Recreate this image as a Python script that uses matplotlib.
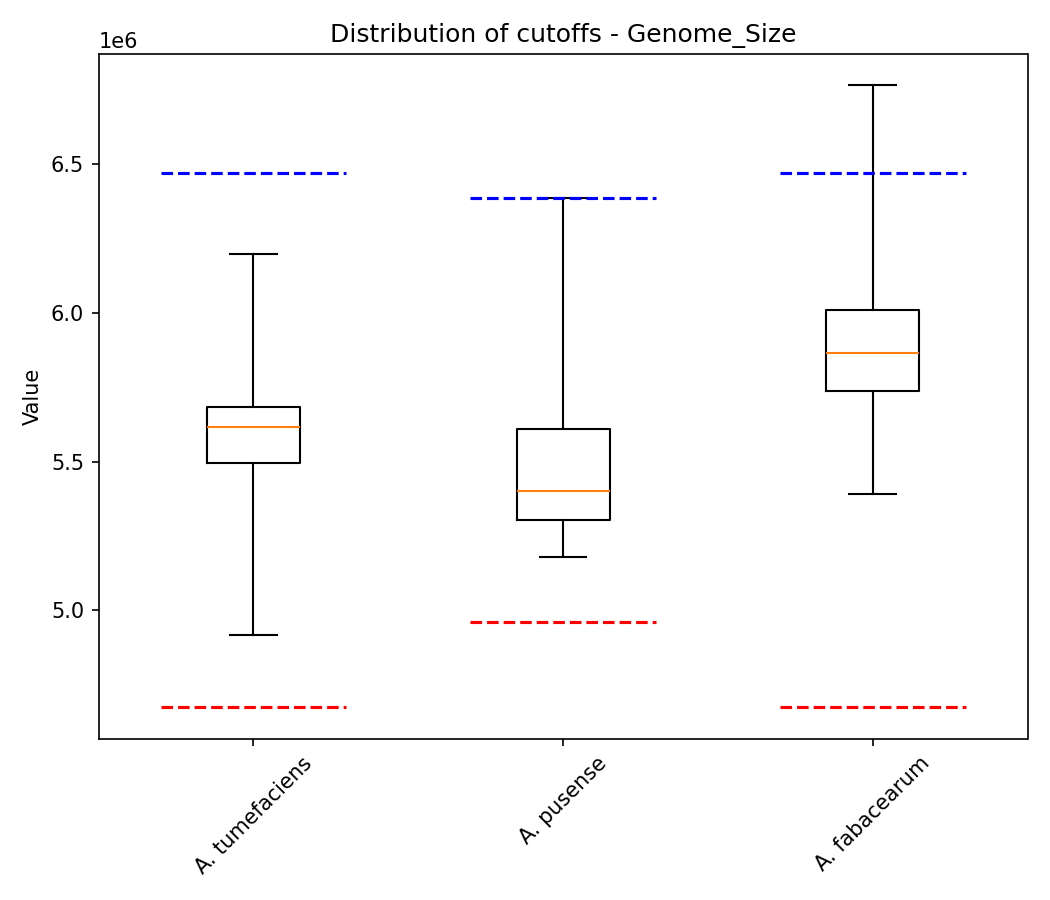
import matplotlib
matplotlib.use("Agg")
import matplotlib.pyplot as plt

species = ["A. tumefaciens", "A. pusense", "A. fabacearum"]
whislo = [4.916e6, 5.179e6, 5.391e6]
q1 = [5.496e6, 5.303e6, 5.738e6]
med = [5.617e6, 5.401e6, 5.866e6]
q3 = [5.684e6, 5.610e6, 6.011e6]
whishi = [6.197e6, 6.385e6, 6.766e6]
upper_cut = [6.470e6, 6.385e6, 6.470e6]
lower_cut = [4.673e6, 4.960e6, 4.673e6]

stats = [dict(label=s, whislo=a, q1=b, med=c, q3=d, whishi=e, fliers=[])
         for s, a, b, c, d, e in zip(species, whislo, q1, med, q3, whishi)]

fig, ax = plt.subplots(figsize=(7, 6), dpi=150)
ax.bxp(stats, positions=[1, 2, 3], showfliers=False)
for i, (u, l) in enumerate(zip(upper_cut, lower_cut)):
    p = i + 1
    ax.hlines(u, p - 0.3, p + 0.3, colors="blue", linestyles="--", linewidth=1.5)
    ax.hlines(l, p - 0.3, p + 0.3, colors="red", linestyles="--", linewidth=1.5)
ax.set_xlim(0.5, 3.5)
ax.set_title("Distribution of cutoffs - Genome_Size")
ax.set_ylabel("Value")
plt.setp(ax.get_xticklabels(), rotation=45)
fig.tight_layout()
fig.savefig("out.png")
